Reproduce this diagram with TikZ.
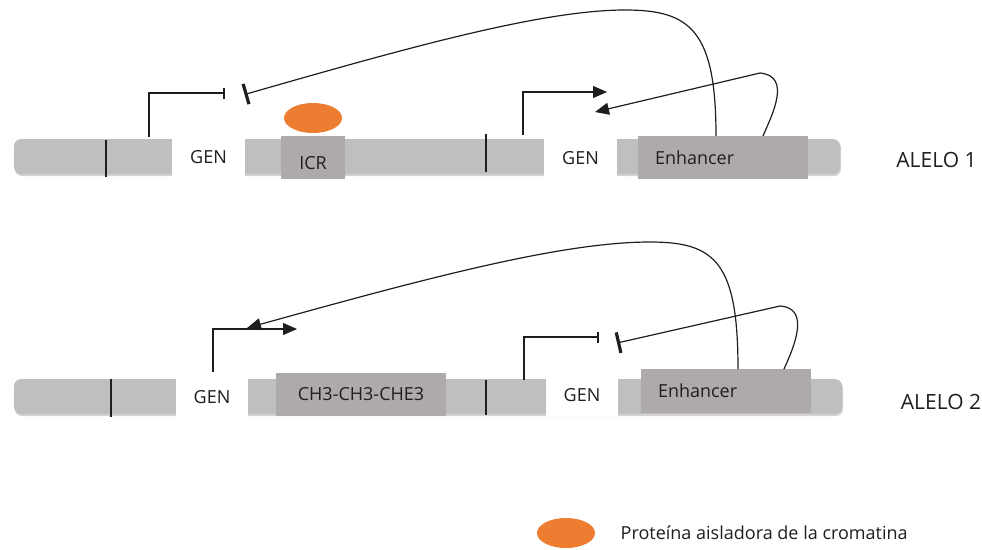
\documentclass[tikz,border=0pt]{standalone}
\usepackage{fontspec}
\setmainfont{Open Sans}
\usepackage{tikz}
\usetikzlibrary{positioning,arrows.meta,shapes.geometric,shadows}
\definecolor{ink}{HTML}{1E1E1E}
\definecolor{chromo}{HTML}{BFBFBF}
\definecolor{region}{HTML}{AEAAAA}
\definecolor{insul}{HTML}{ED7D31}

\begin{document}
\begin{tikzpicture}[x=1pt,y=-1pt,
  every node/.style={font=\fontsize{18}{21}\selectfont,text=ink},
  bar/.style={rounded corners=7pt,fill=chromo,minimum height=35pt,inner sep=0pt,
    drop shadow={opacity=0.35,shadow xshift=1pt,shadow yshift=-2pt}},
  gen/.style={fill=white,minimum width=73pt,minimum height=42pt,inner sep=0pt},
  reg/.style={fill=region,minimum height=43pt,inner sep=0pt},
  enh/.style={reg,text width=136pt,align=left,inner xsep=17pt},
  prot/.style={ellipse,fill=insul,minimum width=58pt,minimum height=30pt,inner sep=0pt},
  allele/.style={font=\fontsize{21}{24}\selectfont},
  tick/.style={line width=1.3pt,ink},
  link/.style={line width=1.2pt,ink},
  act/.style={link,-{Triangle[length=14pt,width=12pt]}},
  stop/.style={link,-{Bar[width=21pt,line width=3.2pt]}},
  off/.style={link,-{Bar[width=11pt,line width=2.4pt]}}]
  \useasboundingbox (0,0) rectangle (982,549);

  % alelo 1
  \node[bar,minimum width=826pt] (chr1) at (427,156.5) {};
  \draw[tick] (106,140) -- (106,177);
  \draw[tick] (486,134) -- (486,172);
  \node[gen] (gen1) at (208.5,157) {GEN};
  \node[reg,minimum width=64pt] (icr) at (313,157.5) {};
  \node[yshift=-6pt] (icrlbl) at (icr.center) {ICR};
  \node[prot] (ins1) at (313,118) {};
  \node[gen] (gen2) at (580.5,158) {GEN};
  \node[enh] (enh1) at (723,157.5) {Enhancer};
  \node[allele] (al1) at (936.5,160) {ALELO 1};

  % alelo 2
  \node[bar,minimum width=828pt] (chr2) at (428,396.5) {};
  \draw[tick] (111,379) -- (111,417);
  \draw[tick] (486,380) -- (486,415);
  \node[gen,minimum width=72pt] (gen3) at (212,397) {GEN};
  \node[reg,minimum width=170pt] (met) at (361,394.5) {CH3-CH3-CHE3};
  \node[gen,minimum width=72pt,minimum height=41pt] (gen4) at (582,395.5) {GEN};
  \node[enh,minimum height=44pt] (enh2) at (726,391) {Enhancer};
  \node[allele] (al2) at (941,402) {ALELO 2};

  % leyenda
  \node[prot] (ins0) at (566,533) {};
  \node[right=22pt of ins0] (leg) {Proteína aisladora de la cromatina};

  \coordinate (tss1) at (149,137);
  \coordinate (end1) at (225,93);
  \coordinate (blk1) at (244.5,94.5);
  \coordinate (tss2) at (523,135);
  \coordinate (end2) at (607,92);
  \coordinate (hit2) at (595,112);
  \coordinate (e1) at (716,136);
  \coordinate (e2) at (763,136);
  \coordinate (tss3) at (213,372);
  \coordinate (end3) at (297,329);
  \coordinate (hit3) at (247,328);
  \coordinate (tss4) at (524,380);
  \coordinate (end4) at (599,337);
  \coordinate (blk4) at (617,343);
  \coordinate (e3) at (738,369);
  \coordinate (e4) at (784,369);

  \draw[off] (tss1) |- (end1);
  \draw[act] (tss2) |- (end2);
  \draw[stop] (e1) .. controls (716,30) and (690,10) .. (625,10) .. controls (540,10) and (400,50) .. (blk1);
  \draw[act] (e2) .. controls (772,115) and (792,76) .. (760,73) -- (hit2);

  \draw[act] (tss3) |- (end3);
  \draw[off] (tss4) |- (end4);
  \draw[act] (e3) .. controls (738,262) and (715,242) .. (650,242) .. controls (560,242) and (420,280) .. (hit3);
  \draw[stop] (e4) .. controls (795,345) and (810,308) .. (780,306) -- (blk4);
\end{tikzpicture}
\end{document}
